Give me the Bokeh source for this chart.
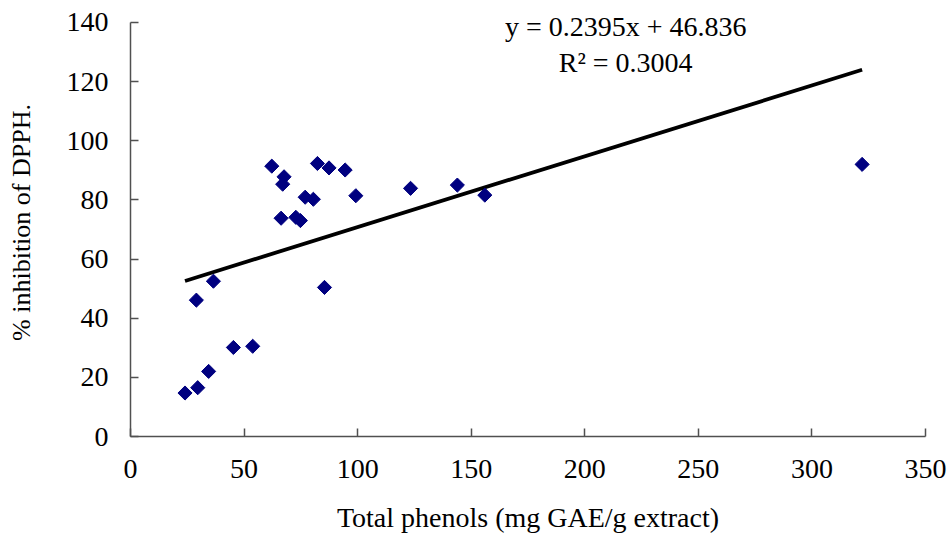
from bokeh.plotting import figure
from bokeh.models import Label, FixedTicker
from bokeh.embed import file_html
from bokeh.resources import INLINE
import numpy as np

# Data
total_phenols = [24.0, 29.6, 29.0, 34.4, 36.5, 45.3, 53.8, 62.2, 67.6, 67.0,
                 82.3, 87.4, 94.5, 76.9, 80.5, 99.2, 66.3, 72.8, 74.8, 85.4,
                 123.3, 143.9, 156.0, 322.1]
dpph_inhibition = [14.7, 16.5, 46.1, 22.0, 52.5, 30.1, 30.5, 91.4, 87.8, 85.3,
                   92.3, 90.8, 90.1, 80.9, 80.2, 81.4, 73.8, 74.1, 73.0, 50.4,
                   83.9, 85.0, 81.6, 92.0]
slope = 0.2395
intercept = 46.836
r_squared = 0.3004
x_ticks = [0, 50, 100, 150, 200, 250, 300, 350]
y_ticks = [0, 20, 40, 60, 80, 100, 120, 140]

FONT = "Liberation Serif"

p = figure(width=951, height=535, x_range=(0, 350), y_range=(0, 144.7),
           output_backend="svg", toolbar_location=None,
           min_border_left=130, min_border_right=26, min_border_top=8,
           min_border_bottom=98)
p.outline_line_color = None
p.xgrid.visible = False
p.ygrid.visible = False
p.background_fill_color = "white"
p.border_fill_color = "white"

for ax in (p.xaxis[0], p.yaxis[0]):
    ax.axis_line_color = "#505050"
    ax.axis_line_width = 1.5
    ax.major_tick_line_color = "#505050"
    ax.major_tick_line_width = 1.5
    ax.major_tick_in = 8
    ax.major_tick_out = 0
    ax.minor_tick_line_color = None
    ax.major_label_text_font = FONT
    ax.major_label_text_font_size = "28px"
    ax.major_label_text_color = "black"
    ax.axis_label_text_font = FONT
    ax.axis_label_text_font_style = "normal"
    ax.axis_label_text_color = "black"

p.xaxis.ticker = FixedTicker(ticks=x_ticks)
p.yaxis.ticker = FixedTicker(ticks=y_ticks)
p.yaxis.bounds = (0, 140)
p.xaxis.axis_label = "Total phenols (mg GAE/g extract)"
p.yaxis.axis_label = "% inhibition of DPPH."
p.xaxis.axis_label_text_font_size = "28px"
p.yaxis.axis_label_text_font_size = "26px"
p.yaxis.major_label_standoff = 22
p.xaxis.major_label_standoff = 23
p.yaxis.axis_label_standoff = 28
p.xaxis.axis_label_standoff = 21

# Trend line over the data span
xs = np.array([min(total_phenols), max(total_phenols)])
ys = slope * xs + intercept
p.line(xs, ys, line_color="black", line_width=3.8)

p.scatter(total_phenols, dpph_inhibition, marker="square", angle=np.pi / 4,
          size=10, fill_color="#000080", line_color="#000080")

eq1 = Label(x=218, y=138.7, text=f"y = {slope}x + {intercept}",
            text_font=FONT, text_font_size="28px", text_align="center",
            text_baseline="middle", text_color="black")
eq2 = Label(x=218, y=126.5, text=f"R\u00b2 = {r_squared}",
            text_font=FONT, text_font_size="28px", text_align="center",
            text_baseline="middle", text_color="black")
p.add_layout(eq1)
p.add_layout(eq2)

open("out.html", "w").write(file_html(p, INLINE))
